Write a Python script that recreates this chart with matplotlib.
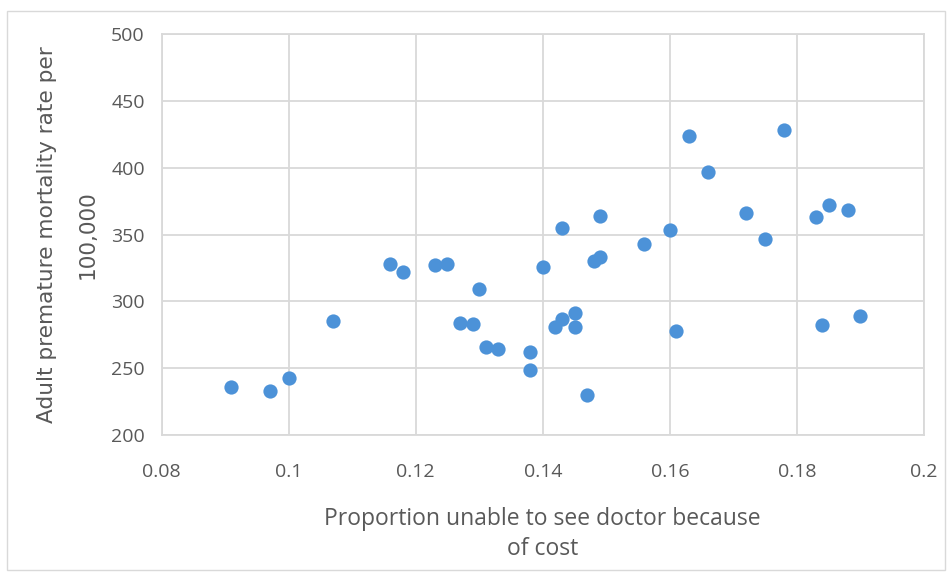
import matplotlib
matplotlib.use("Agg")
import matplotlib.pyplot as plt
from matplotlib.patches import Rectangle

# proportion of adults unable to see a doctor because of cost
cost_barrier = [
    0.091, 0.097, 0.100, 0.107, 0.116, 0.118, 0.123, 0.125, 0.130, 0.127,
    0.129, 0.131, 0.133, 0.138, 0.138, 0.140, 0.143, 0.149, 0.148, 0.149,
    0.156, 0.160, 0.163, 0.166, 0.172, 0.175, 0.178, 0.183, 0.185, 0.188,
    0.184, 0.190, 0.161, 0.142, 0.143, 0.145, 0.145, 0.147,
]
# adult premature mortality per 100,000
mortality = [
    236, 233, 243, 285, 328, 322, 327, 328, 309, 284,
    283, 266, 264, 262, 249, 326, 355, 364, 330, 333,
    343, 353, 424, 397, 366, 347, 428, 363, 372, 368,
    282, 289, 278, 281, 287, 291, 281, 230,
]

x_ticks = [0.08, 0.10, 0.12, 0.14, 0.16, 0.18, 0.20]
x_tick_labels = ["0.08", "0.1", "0.12", "0.14", "0.16", "0.18", "0.2"]
y_ticks = [200, 250, 300, 350, 400, 450, 500]

DOT = "#4C92D8"
GRID = "#D9D9D9"
TEXT = "#595959"
BODY = ["Open Sans", "DejaVu Sans"]
WIDE = ["DejaVu Sans"]

plt.rcParams["font.family"] = BODY
plt.rcParams["font.weight"] = "medium"

fig = plt.figure(figsize=(9.52, 5.8), dpi=100)
fig.patches.append(Rectangle((7 / 952, 1 - 570 / 580), 938 / 952, 559 / 580,
                             transform=fig.transFigure, fill=False,
                             edgecolor=GRID, linewidth=1.0))

ax = fig.add_axes([161.5 / 952, 1 - 435 / 580, (924 - 161.5) / 952, 401 / 580])
ax.scatter(cost_barrier, mortality, s=105, color=DOT, linewidths=0, zorder=3)

ax.set_xlim(0.08, 0.20)
ax.set_ylim(200, 500)
ax.set_xticks(x_ticks)
ax.set_xticklabels(x_tick_labels)
ax.set_yticks(y_ticks)
ax.grid(True, color=GRID, linewidth=1.3)
ax.set_axisbelow(True)
for sp in ax.spines.values():
    sp.set_color(GRID)
    sp.set_linewidth(1.3)
ax.tick_params(length=0, colors=TEXT, labelsize=14)
ax.tick_params(axis="x", pad=20)
ax.tick_params(axis="y", pad=12)

ax.set_xlabel("Proportion unable to see doctor because\nof cost",
              fontsize=16.5, color=TEXT, labelpad=19, linespacing=1.3)
ax.set_ylabel("Adult premature mortality rate per\n100,000",
              fontsize=15.6, color=TEXT, family=WIDE, weight="normal",
              labelpad=10, linespacing=2.25)

fig.savefig("out.png", dpi=100)
